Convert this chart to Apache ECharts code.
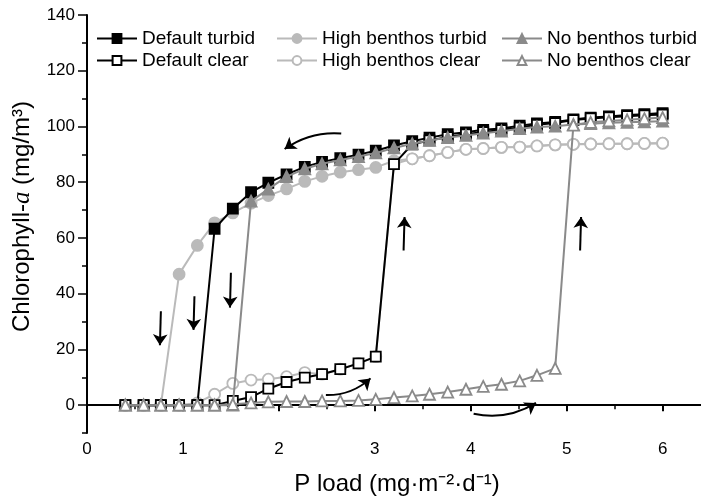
<!DOCTYPE html>
<html><head><meta charset="utf-8">
<script src="https://cdn.jsdelivr.net/npm/echarts@6/dist/echarts.min.js"></script>
<style>html,body{margin:0;padding:0;background:#fff}#c{width:701px;height:496px}</style>
</head><body><div id="c"></div>
<script>
const pLoad = [0.40,0.59,0.77,0.96,1.15,1.33,1.52,1.71,1.89,2.08,2.27,2.45,2.64,2.83,3.01,3.20,3.39,3.57,3.76,3.95,4.13,4.32,4.51,4.69,4.88,5.07,5.25,5.44,5.63,5.81,6.00];
const defaultTurbid = [0,0,0,0,0,63.3,70.5,76.4,79.8,82.8,85.5,87.3,88.6,89.9,91.3,93.2,94.7,96.0,97.2,97.9,98.8,99.3,100.3,101.1,101.6,102.5,103.2,103.6,104.1,104.4,104.8];
const defaultClear = [0,0,0,0,0,0,1.5,2.9,5.9,8.3,9.9,11.1,12.9,15.0,17.4,86.5,93.6,95.0,96.2,97.2,98.0,98.7,99.6,100.6,101.2,102.3,102.9,103.3,103.7,104.0,104.3];
const highTurbid = [0,0,0,47,57.3,65.4,69,72.5,75.2,77.6,80.3,82.1,83.6,84.5,85.3,87.7,88.4,89.5,90.7,91.8,92.1,92.5,92.6,93.0,93.4,93.6,93.7,93.8,93.8,93.9,94.0];
const highClear = [0,0,0,0,0.8,3.9,7.8,9.0,9.3,10.2,11.7,11.1,12.9,15.0,17.4,86.5,88.4,89.5,90.7,91.8,92.1,92.5,92.6,93.0,93.4,93.6,93.7,93.8,93.8,93.9,94.0];
const noTurbid = [0,0,0,0,0,0,0,73.2,77.5,82.0,84.8,86.6,88.0,89.2,90.5,92.3,93.8,95.0,96.0,96.8,97.6,98.3,99.2,99.8,100.1,100.7,101.0,101.3,101.5,101.7,101.9];
const noClear = [0,0,0,0,0,0,0.3,0.8,1.2,1.3,1.3,1.5,1.5,1.7,2.1,2.7,3.3,3.9,4.7,5.7,6.7,7.5,8.7,10.7,13.2,100.5,101.5,102.0,102.4,102.8,103.2];
const xTickLabels = [0,1,2,3,4,5,6];
const yTickLabels = [0,20,40,60,80,100,120,140];
const yMinorTicks = [-10,10,30,50,70,90,110,130];

const FONT = "'Liberation Sans', Arial, sans-serif";
const BLACK = '#000000', LIGHT = '#bababa', MID = '#8a8a8a';
function pair(ys){ return ys.map((y,i)=>[pLoad[i], y]); }
function mk(name, data, color, symbol, filled, size, z){
  return {
    name, type:'line', data: pair(data), symbol, symbolSize: size,
    lineStyle:{color, width:2}, z,
    itemStyle:{color: filled ? color : '#ffffff', borderColor: color, borderWidth: 1.8},
    emphasis:{disabled:true}, animation:false
  };
}
function arrow(coords, curveness){
  return {type:'lines', coordinateSystem:'cartesian2d', xAxisIndex:0, yAxisIndex:0, z:20,
    symbol:['none','arrow'], symbolSize:[1,11], animation:false,
    lineStyle:{color:'#000', width:2, curveness, opacity:1},
    data:[{coords}]};
}
const chart = echarts.init(document.getElementById('c'));
const legendText = {fontFamily: FONT, fontSize: 19, color:'#000'};
const lg = {top:24, orient:'vertical', itemGap:3, itemWidth:40, itemHeight:11, textStyle:legendText};
chart.setOption({
  backgroundColor:'#fff',
  animation:false,
  grid:{left:87, right:0, top:15, bottom:63, containLabel:false, outerBoundsMode:'none'},
  legend:[
    Object.assign({left:91, data:['Default turbid','Default clear']}, lg),
    Object.assign({left:271, data:['High benthos turbid','High benthos clear']}, lg),
    Object.assign({left:496, data:['No benthos turbid','No benthos clear']}, lg)
  ],
  xAxis:[{
    type:'value', min:0, max:6.4, interval:1,
    name:'P load (mg·m⁻²·d⁻¹)', nameLocation:'middle', nameGap:39,
    nameTextStyle:{fontFamily:FONT, fontSize:24, color:'#000', padding:[0,0,0,6]},
    axisLine:{lineStyle:{color:'#000', width:2}},
    axisTick:{inside:false, length:6, lineStyle:{color:'#000', width:2}, customValues: xTickLabels},
    minorTick:{show:true, splitNumber:2, length:4, lineStyle:{color:'#000', width:1.5}},
    axisLabel:{customValues: xTickLabels, fontFamily:FONT, fontSize:17, color:'#000', margin:8},
    splitLine:{show:false}
  },{
    type:'value', min:0, max:6.4, position:'top',
    axisLine:{show:true, lineStyle:{color:'#000', width:2}},
    axisTick:{show:false}, axisLabel:{show:false}, splitLine:{show:false}
  }],
  yAxis:[{
    type:'value', min:-10, max:140,
    name:'Chlorophyll-{i|a} (mg/m³)', nameLocation:'middle', nameGap:52,
    nameTextStyle:{fontFamily:FONT, fontSize:24, color:'#000', padding:[0,0,0,15],
      rich:{i:{fontFamily:"'Liberation Serif', serif", fontStyle:'italic', fontSize:25, color:'#000'}}},
    axisLine:{lineStyle:{color:'#000', width:2}},
    axisTick:{length:9, lineStyle:{color:'#000', width:1.5}, customValues: yTickLabels},
    axisLabel:{customValues: yTickLabels, fontFamily:FONT, fontSize:17, color:'#000', margin:12},
    splitLine:{show:false}
  },{
    type:'value', min:-10, max:140, position:'left',
    axisLine:{show:false},
    axisTick:{show:true, length:5, lineStyle:{color:'#000', width:1.5}, customValues: yMinorTicks},
    axisLabel:{show:false}, splitLine:{show:false}
  }],
  series:[
    mk('High benthos turbid', highTurbid, LIGHT, 'circle', true, 11, 2),
    mk('High benthos clear', highClear, LIGHT, 'circle', false, 11, 3),
    mk('Default turbid', defaultTurbid, BLACK, 'rect', true, 10, 4),
    mk('Default clear', defaultClear, BLACK, 'rect', false, 10, 5),
    mk('No benthos turbid', noTurbid, MID, 'triangle', true, 11, 6),
    mk('No benthos clear', noClear, MID, 'triangle', false, 11, 7),
    arrow([[2.65,97.5],[2.06,91.9]], -0.18),
    arrow([[0.77,33.7],[0.76,21.5]], 0),
    arrow([[1.12,39.1],[1.11,27.0]], 0),
    arrow([[1.50,47.5],[1.49,35.0]], 0),
    arrow([[3.30,55.5],[3.31,67.5]], 0),
    arrow([[5.14,55.5],[5.15,67.5]], 0),
    arrow([[2.49,3.6],[2.955,9.6]], -0.2),
    arrow([[4.03,-3.1],[4.68,0.8]], -0.2)
  ]
});
</script></body></html>
